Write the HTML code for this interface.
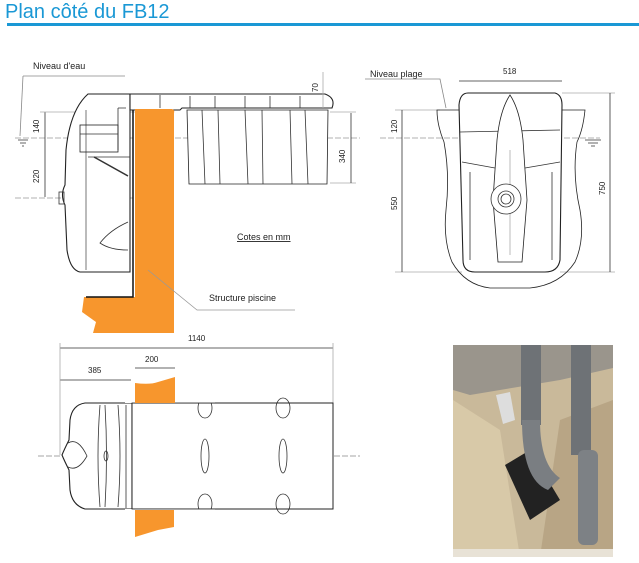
<!DOCTYPE html>
<html><head><meta charset="utf-8"><style>
html,body{margin:0;padding:0;background:#fff;width:639px;height:563px;overflow:hidden}
svg{display:block}
text{font-family:"Liberation Sans",sans-serif;fill:#222}
</style></head><body>
<svg width="639" height="563" viewBox="0 0 639 563">
<text x="5" y="18" style="font-size:20px;fill:#1a98d5">Plan côté du FB12</text>
<rect x="7" y="23" width="632" height="3" fill="#1a98d5"/>

<!-- side view -->
<g fill="none" stroke="#333" stroke-width="0.8">
<line x1="23" y1="76" x2="125" y2="76" stroke="#888"/>
<line x1="23" y1="76" x2="20" y2="136" stroke="#888"/>
<line x1="15" y1="138" x2="360" y2="138" stroke="#999" stroke-dasharray="6,2"/>
<line x1="15" y1="198" x2="135" y2="198" stroke="#999" stroke-dasharray="6,2"/>
<line x1="45" y1="112" x2="45" y2="197"/>
<line x1="40" y1="112" x2="135" y2="112" stroke="#aaa"/>
<path d="M18 140h10M20 143h6M22 146h2"/>
<!-- body -->
<path d="M88 94 H130 V272 H80 Q70 270 67 250 L65 205 Q60 195 65 185 L66 150 Q70 110 88 94Z" fill="#fff" stroke="#222" stroke-width="1.1"/>
<path d="M86 110 V270" stroke="#555"/>
<path d="M118 108 H126 M118 108 V150"/>
<rect x="80" y="125" width="38" height="27" stroke="#222"/>
<line x1="80" y1="134" x2="118" y2="134"/>
<line x1="94" y1="157" x2="128" y2="176" stroke-width="1.5"/>
<line x1="88" y1="157" x2="130" y2="157"/>
<path d="M128 222 Q110 230 100 243 Q110 250 128 250"/>
<rect x="59" y="192" width="5" height="12"/>
<!-- lid -->
<path d="M130 94 H325 Q336 98 332 108 H182 L180 110 H130Z" fill="#fff" stroke="#222" stroke-width="1.1"/>
<path d="M160 95V108M190 96V108M215 96V108M245 96V108M270 96V108M300 96V108"/>
<!-- tank -->
<path d="M187 110 H328 L327 184 H189Z" fill="#fff" stroke="#222"/>
<path d="M202 110L205 184M218 110L220 184M245 110L248 184M262 110L263 184M290 110L292 184M305 110L308 184"/>
<line x1="330" y1="112" x2="356" y2="112" stroke="#aaa"/>
<line x1="330" y1="183" x2="356" y2="183" stroke="#aaa"/>
<line x1="351" y1="113" x2="351" y2="183"/>
<line x1="323" y1="72" x2="323" y2="108" stroke="#aaa"/>
</g>
<path d="M135 109 H172 Q175 110 174 113 V333 H93 L96 322 L82 312 L84 297 H135Z" fill="#f7962d"/>
<path d="M133 110 V297 H86" fill="none" stroke="#111" stroke-width="1.5"/>
<text x="33" y="69" style="font-size:9px">Niveau d'eau</text>
<text x="39" y="133" style="font-size:8px" transform="rotate(-90 39 133)">140</text>
<text x="39" y="183" style="font-size:8px" transform="rotate(-90 39 183)">220</text>
<text x="345" y="163" style="font-size:8px" transform="rotate(-90 345 163)">340</text>
<text x="318" y="92" style="font-size:8px" transform="rotate(-90 318 92)">70</text>
<text x="237" y="240" style="font-size:9px;text-decoration:underline">Cotes en mm</text>
<text x="209" y="301" style="font-size:9px">Structure piscine</text>
<path d="M148 270 L197 310 H295" fill="none" stroke="#999" stroke-width="0.8"/>

<!-- front view -->
<g fill="none" stroke="#333" stroke-width="0.8">
<path d="M365 79 H440 L446 108" stroke="#888"/>
<line x1="395" y1="110" x2="440" y2="110" stroke="#aaa"/>
<line x1="395" y1="272" x2="462" y2="272" stroke="#aaa"/>
<line x1="380" y1="138" x2="600" y2="138" stroke="#999" stroke-dasharray="6,2"/>
<path d="M585 140h16M588 143h10M591 146h4"/>
<line x1="402" y1="110" x2="402" y2="272"/>
<line x1="459" y1="81" x2="562" y2="81"/>
<line x1="562" y1="93" x2="615" y2="93" stroke="#aaa"/>
<line x1="560" y1="272" x2="615" y2="272" stroke="#aaa"/>
<line x1="610" y1="93" x2="610" y2="272"/>
<path d="M437 110 H459 M562 110 H585 Q583 130 577 142 Q572 175 580 210 Q585 240 575 262 Q560 285 530 288 H490 Q465 285 452 262 Q443 240 446 210 Q450 175 444 142 Q437 125 437 110Z" stroke="#222"/>
<path d="M468 93 H555 Q562 95 562 105 L560 260 Q558 272 545 272 H475 Q463 272 463 260 L459 105 Q460 93 468 93Z" fill="#fff" stroke="#222" stroke-width="1.1"/>
<path d="M460 132 L560 130 M462 162 L495 168 M525 168 L560 162"/>
<path d="M470 172 V260 M552 172 V260"/>
<path d="M510 95 Q500 110 497 140 L493 200 L498 262 H522 L527 200 L523 140 Q520 110 510 95Z" fill="#fff" stroke="#222"/>
<line x1="510" y1="150" x2="510" y2="255" stroke="#aaa"/>
<circle cx="506" cy="199" r="15" fill="#fff"/>
<circle cx="506" cy="199" r="8"/>
<circle cx="506" cy="199" r="5"/>
</g>
<text x="370" y="77" style="font-size:9px">Niveau plage</text>
<text x="503" y="74" style="font-size:8px">518</text>
<text x="397" y="133" style="font-size:8px" transform="rotate(-90 397 133)">120</text>
<text x="397" y="210" style="font-size:8px" transform="rotate(-90 397 210)">550</text>
<text x="605" y="195" style="font-size:8px" transform="rotate(-90 605 195)">750</text>

<!-- top view -->
<g fill="none" stroke="#333" stroke-width="0.8">
<line x1="60" y1="348" x2="333" y2="348"/>
<line x1="60" y1="380" x2="131" y2="380"/>
<line x1="135" y1="368" x2="175" y2="368"/>
<line x1="60" y1="343" x2="60" y2="455" stroke="#aaa"/>
<line x1="333" y1="343" x2="333" y2="403" stroke="#aaa"/>
<line x1="38" y1="456" x2="360" y2="456" stroke="#888" stroke-dasharray="6,2"/>
<path d="M85 403 H132 V509 H85 Q72 505 70 490 L69 470 Q64 460 62 455 Q64 450 69 440 L70 420 Q72 405 85 403Z" fill="#fff" stroke="#222" stroke-width="1.1"/>
<path d="M100 405 Q96 456 100 507 M105 405 Q108 456 105 507 M118 405 Q122 456 118 507 M126 405 V508"/>
<path d="M68 443 Q78 437 87 456 Q78 472 68 467"/>
<ellipse cx="106" cy="456" rx="2" ry="5"/>
<rect x="132" y="403" width="201" height="106" fill="#fff" stroke="#222"/>
<ellipse cx="205" cy="408" rx="7" ry="10"/><ellipse cx="283" cy="408" rx="7" ry="10"/>
<ellipse cx="205" cy="456" rx="4" ry="17"/><ellipse cx="283" cy="456" rx="4" ry="17"/>
<ellipse cx="205" cy="504" rx="7" ry="10"/><ellipse cx="283" cy="504" rx="7" ry="10"/>
<rect x="132" y="403" width="201" height="106" stroke="#222"/>
</g>
<rect x="125" y="395" width="90" height="8" fill="#fff"/>
<rect x="125" y="509" width="90" height="6" fill="#fff"/>
<rect x="132" y="403" width="201" height="106" fill="none" stroke="#222" stroke-width="0.8"/>
<path d="M135 383 Q150 385 158 382 L175 377 V403 H135Z" fill="#f7962d"/>
<path d="M135 510 H174 V527 L158 530 L135 537Z" fill="#f7962d"/>
<text x="188" y="341" style="font-size:8px">1140</text>
<text x="145" y="362" style="font-size:8px">200</text>
<text x="88" y="373" style="font-size:8px">385</text>

<!-- photo -->
<rect x="453" y="345" width="160" height="212" fill="#c9b99a"/>
<path d="M453 345 H613 V368 L560 380 L470 395 L453 390Z" fill="#9a958c"/>
<path d="M453 400 L500 430 L520 557 H453Z" fill="#d8c9a8"/>
<path d="M560 420 L613 400 V557 H540Z" fill="#b8a585"/>
<path d="M505 465 L530 450 L560 500 L530 520Z" fill="#222"/>
<path d="M496 395 L510 392 L515 420 L503 424Z" fill="#ddd"/>
<rect x="521" y="345" width="20" height="80" fill="#6e7276"/>
<path d="M522 420 Q522 480 548 490 L560 478 Q540 465 540 420Z" fill="#7a7e82"/>
<rect x="571" y="345" width="20" height="110" fill="#6e7276"/>
<rect x="578" y="450" width="20" height="95" rx="6" fill="#7d8185"/>
<rect x="453" y="549" width="160" height="8" fill="#e8e2d6"/>
</svg>
</body></html>
